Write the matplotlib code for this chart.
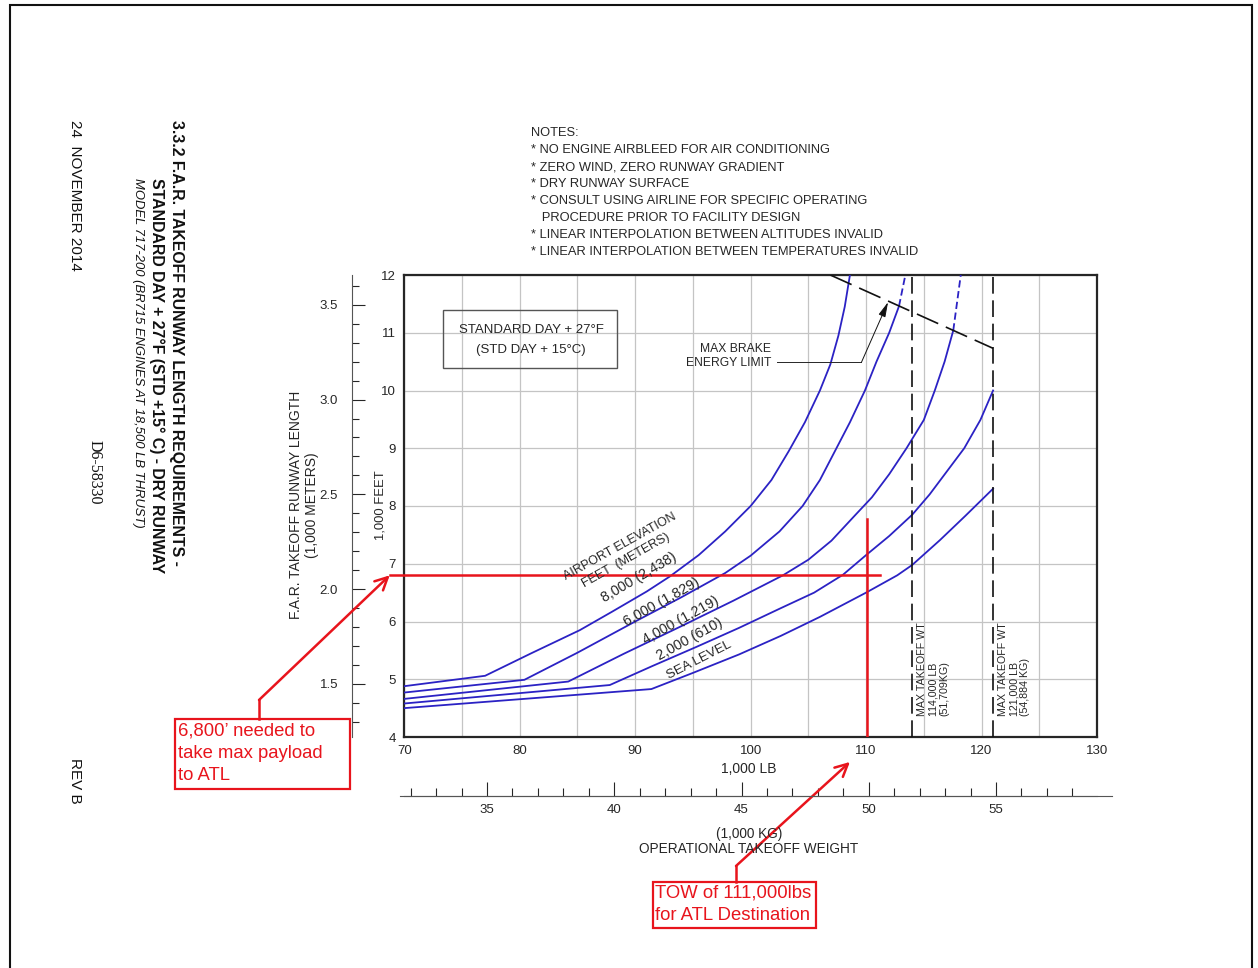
import matplotlib
matplotlib.use("Agg")
import matplotlib.pyplot as plt
from matplotlib.ticker import MultipleLocator, FixedLocator
from matplotlib.patches import Rectangle
from matplotlib.lines import Line2D

W, H = 1258, 968
plt.rcParams["font.family"] = ["Liberation Sans", "DejaVu Sans"]

# ---- chart data: operational takeoff weight (1,000 LB) vs runway length (1,000 FT) ----
tow_8000 = [70, 77.0, 81, 85.2, 88, 91.0, 93.0, 95.5, 97.8, 100.0, 101.8, 103.3, 104.7, 106.0, 106.9, 107.6, 108.15, 108.6]
len_8000 = [4.88, 5.06, 5.45, 5.85, 6.17, 6.52, 6.78, 7.15, 7.56, 8.0, 8.45, 8.95, 9.45, 10.0, 10.45, 10.95, 11.45, 12.0]

tow_6000 = [70, 80.4, 85, 90, 94, 97.8, 100.0, 102.5, 104.5, 106.0, 107.3, 108.6, 109.9, 110.9, 112.0, 112.85]
len_6000 = [4.77, 4.99, 5.46, 6.0, 6.42, 6.84, 7.14, 7.56, 8.0, 8.45, 8.95, 9.45, 10.0, 10.5, 11.0, 11.46]
tow_6000_ext = [112.85, 113.4]
len_6000_ext = [11.46, 12.0]

tow_4000 = [70, 84.2, 89, 93.9, 98.5, 102.8, 105.0, 107.0, 109.0, 110.5, 112.0, 113.5, 115.0, 115.95, 116.8, 117.55]
len_4000 = [4.66, 4.96, 5.44, 5.91, 6.36, 6.8, 7.07, 7.4, 7.83, 8.15, 8.55, 9.0, 9.49, 10.0, 10.5, 11.04]
tow_4000_ext = [117.55, 118.2]
len_4000_ext = [11.04, 12.0]

tow_2000 = [70, 87.8, 91.5, 95.3, 99.0, 102.6, 105.5, 108.0, 110.0, 112.0, 114.0, 115.5, 117.0, 118.5, 119.9, 121.0]
len_2000 = [4.58, 4.90, 5.23, 5.56, 5.89, 6.23, 6.5, 6.81, 7.15, 7.48, 7.85, 8.2, 8.6, 9.0, 9.49, 10.0]

tow_sl = [70, 91.4, 95, 99, 102.6, 106.0, 110.0, 112.7, 114.0, 116.4, 118.6, 121.0]
len_sl = [4.50, 4.83, 5.11, 5.43, 5.75, 6.08, 6.5, 6.8, 6.98, 7.41, 7.83, 8.3]

brake_tow = [106.9, 121.0]
brake_len = [12.0, 10.73]

mtow_klb = [114.0, 121.0]
mtow_text = ["MAX TAKEOFF WT\n114,000 LB\n(51,709KG)", "MAX TAKEOFF WT\n121,000 LB\n(54,884 KG)"]

elev_labels = ["8,000 (2,438)", "6,000 (1,829)", "4,000 (1,219)", "2,000 (610)", "SEA LEVEL"]

route_len = 6.8     # 1,000 ft needed for ATL
route_tow = 110.1   # TOW marked for ATL

x_ticks = [70, 80, 90, 100, 110, 120, 130]
y_ticks = [4, 5, 6, 7, 8, 9, 10, 11, 12]
m_ticks = [1.5, 2.0, 2.5, 3.0, 3.5]
kg_ticks = [35, 40, 45, 50, 55]

FT_PER_M = 3.28084
KG_PER_LB = 0.45359237

BLUE = "#2b22c4"
RED = "#e8141c"
INK = "#262626"


def fx(px):
    return px / W


def fy(py):
    return 1 - py / H


fig = plt.figure(figsize=(W / 100, H / 100), dpi=100)
ax = fig.add_axes([fx(404.3), fy(737), (1097 - 404.3) / W, (737 - 275) / H])

ax.set_xlim(70, 130)
ax.set_ylim(4, 12)
ax.xaxis.set_major_locator(FixedLocator(x_ticks))
ax.xaxis.set_minor_locator(MultipleLocator(5))
ax.yaxis.set_major_locator(FixedLocator(y_ticks))
ax.grid(True, which="both", color="#c4c4c4", linewidth=0.9)
ax.set_axisbelow(True)
ax.tick_params(which="both", length=0, labelsize=9.5, colors=INK)
ax.tick_params(axis="y", pad=6)
ax.tick_params(axis="x", pad=6)
for s in ax.spines.values():
    s.set_linewidth(1.6)
    s.set_color(INK)

# elevation curves
for xs, ys in [(tow_8000, len_8000), (tow_6000, len_6000), (tow_4000, len_4000),
               (tow_2000, len_2000), (tow_sl, len_sl)]:
    ax.plot(xs, ys, color=BLUE, lw=1.3, zorder=3, solid_joinstyle="round")
ax.plot(tow_6000_ext, len_6000_ext, color=BLUE, lw=1.3, ls=(0, (4, 2)), zorder=3)
ax.plot(tow_4000_ext, len_4000_ext, color=BLUE, lw=1.3, ls=(0, (4, 2)), zorder=3)

# brake energy limit and max takeoff weight lines
ax.plot(brake_tow, brake_len, color="#111111", lw=1.2, ls=(0, (14, 5)), zorder=3)
for xv in mtow_klb:
    ax.axvline(xv, color="#111111", lw=1.2, ls=(0, (10, 4)), zorder=3)
for xv, txt in zip(mtow_klb, mtow_text):
    ax.text(xv + 0.45, 4.37, txt, rotation=90, ha="left", va="bottom",
            fontsize=7.7, color=INK, linespacing=1.12, multialignment="left")

# max brake energy label with leader
ax.text(98.1, 10.6, "MAX BRAKE\nENERGY LIMIT", ha="center", va="center",
        fontsize=8.7, color=INK, linespacing=1.3, multialignment="right")
ax.plot([102.3, 109.6], [10.49, 10.49], color=INK, lw=0.7, zorder=3)
ax.annotate("", xy=(111.9, 11.53), xytext=(109.6, 10.49),
            arrowprops=dict(arrowstyle="-|>,head_length=0.9,head_width=0.22",
                            color="#111111", lw=0.7, shrinkA=0, shrinkB=0), zorder=4)

# standard day box
fig.add_artist(Rectangle((fx(443.3), fy(367.7)), (616.7 - 443.3) / W, (367.7 - 310) / H,
                         transform=fig.transFigure, fill=False, edgecolor="#555555", lw=1.0))
fig.text(fx(531), fy(330), "STANDARD DAY + 27\u00b0F", ha="center", va="center", fontsize=9.5, color=INK)
fig.text(fx(531), fy(350), "(STD DAY + 15\u00b0C)", ha="center", va="center", fontsize=9.5, color=INK)

# curve labels
label_pos = [
    ("AIRPORT ELEVATION", 620, 546.7, 29, 9),
    ("FEET  (METERS)", 626, 560.3, 29.5, 9),
    (elev_labels[0], 639.2, 577.5, 30.5, 10.3),
    (elev_labels[1], 661.7, 601.7, 29.2, 10.3),
    (elev_labels[2], 680.8, 620.8, 28.9, 10.3),
    (elev_labels[3], 689.2, 639.7, 28.8, 10.3),
    (elev_labels[4], 699.2, 660, 27.1, 9.5),
]
for txt, px, py, rot, fs in label_pos:
    fig.text(fx(px), fy(py), txt, rotation=rot, rotation_mode="anchor",
             ha="center", va="center", fontsize=fs, color=INK)

# metric runway length axis
sec_y = ax.secondary_yaxis(-(404.3 - 352) / (1097 - 404.3),
                           functions=(lambda f: f / FT_PER_M, lambda m: m * FT_PER_M))
sec_y.yaxis.set_major_locator(FixedLocator(m_ticks))
sec_y.yaxis.set_major_formatter(plt.FixedFormatter([f"{v:.1f}" for v in m_ticks]))
sec_y.yaxis.set_minor_locator(MultipleLocator(0.1))
sec_y.tick_params(which="major", direction="in", length=9, width=0.8, pad=10,
                  labelsize=9.5, colors=INK)
sec_y.tick_params(which="minor", direction="in", length=5, width=0.8, colors=INK)
for s in sec_y.spines.values():
    s.set_linewidth(0.8)
    s.set_color("#555555")

# metric weight axis
sec_x = ax.secondary_xaxis(-(796 - 737) / (737 - 275),
                           functions=(lambda lb: lb * KG_PER_LB, lambda kg: kg / KG_PER_LB))
sec_x.xaxis.set_major_locator(FixedLocator(kg_ticks))
sec_x.xaxis.set_minor_locator(MultipleLocator(1))
sec_x.tick_params(which="major", direction="in", length=10, width=0.8, pad=6,
                  labelsize=9.5, colors=INK)
sec_x.tick_params(which="minor", direction="in", length=6, width=0.8, colors=INK)
for s in sec_x.spines.values():
    s.set_linewidth(0.8)
    s.set_color("#555555")
fig.add_artist(Line2D([fx(400), fx(1112)], [fy(796), fy(796)], color="#555555", lw=0.8))

# axis titles
fig.text(fx(304), fy(505), "F.A.R. TAKEOFF RUNWAY LENGTH\n(1,000 METERS)", rotation=90,
         ha="center", va="center", fontsize=10, color=INK, linespacing=1.1)
fig.text(fx(380), fy(505), "1,000 FEET", rotation=90, ha="center", va="center",
         fontsize=9.4, color=INK)
fig.text(fx(749), fy(769), "1,000 LB", ha="center", va="center", fontsize=10, color=INK)
fig.text(fx(749), fy(834), "(1,000 KG)", ha="center", va="center", fontsize=9.8, color=INK)
fig.text(fx(749), fy(849), "OPERATIONAL TAKEOFF WEIGHT", ha="center", va="center",
         fontsize=9.8, color=INK)

# notes
notes = ["NOTES:",
         "* NO ENGINE AIRBLEED FOR AIR CONDITIONING",
         "* ZERO WIND, ZERO RUNWAY GRADIENT",
         "* DRY RUNWAY SURFACE",
         "* CONSULT USING AIRLINE FOR SPECIFIC OPERATING",
         "   PROCEDURE PRIOR TO FACILITY DESIGN",
         "* LINEAR INTERPOLATION BETWEEN ALTITUDES INVALID",
         "* LINEAR INTERPOLATION BETWEEN TEMPERATURES INVALID"]
for i, line in enumerate(notes):
    fig.text(fx(531), fy(133 + 17 * i), line, ha="left", va="center", fontsize=9.3, color=INK)

# side title block
fig.text(fx(176), fy(120), "3.3.2 F.A.R. TAKEOFF RUNWAY LENGTH REQUIREMENTS -", rotation=-90,
         ha="center", va="top", fontsize=11.4, fontweight="bold", color="#111111")
fig.text(fx(157), fy(178), "STANDARD DAY + 27\u00b0F (STD +15\u00b0 C) - DRY RUNWAY", rotation=-90,
         ha="center", va="top", fontsize=11.4, fontweight="bold", color="#111111")
fig.text(fx(138), fy(178), "MODEL 717-200 (BR715 ENGINES AT 18,500 LB THRUST)", rotation=-90,
         ha="center", va="top", fontsize=9.4, style="italic", color="#111111")
fig.text(fx(75), fy(120), "24  NOVEMBER 2014", rotation=-90, ha="center", va="top",
         fontsize=11, color="#111111")
fig.text(fx(95), fy(440), "D6-58330", rotation=-90, ha="center", va="top",
         fontsize=11.5, family="Liberation Serif", color="#111111")
fig.text(fx(75), fy(758), "REV B", rotation=-90, ha="center", va="top",
         fontsize=11, color="#111111")

# red annotations
ax.plot([68.8, route_tow + 1.1], [route_len, route_len], color=RED, lw=1.8, clip_on=False, zorder=5)
ax.plot([route_tow, route_tow], [4, 7.78], color=RED, lw=1.8, zorder=5)

fig.add_artist(Rectangle((fx(175), fy(789)), (350 - 175) / W, (789 - 719) / H,
                         transform=fig.transFigure, fill=False, edgecolor=RED, lw=1.6))
for i, line in enumerate(["6,800\u2019 needed to", "take max payload", "to ATL"]):
    fig.text(fx(178), fy(731 + 22 * i), line, ha="left", va="center", fontsize=13.3, color=RED)
fig.add_artist(Line2D([fx(259), fx(259)], [fy(719), fy(700)], color=RED, lw=1.8))
ax.annotate("", xy=(-0.021, route_len), xycoords=ax.get_yaxis_transform(),
            xytext=(fx(259), fy(700)), textcoords="figure fraction",
            arrowprops=dict(arrowstyle="->,head_length=0.9,head_width=0.45", color=RED, lw=1.8,
                            shrinkA=0, shrinkB=0), annotation_clip=False)

fig.add_artist(Rectangle((fx(652.7), fy(928.3)), (815.7 - 652.7) / W, (928.3 - 881.7) / H,
                         transform=fig.transFigure, fill=False, edgecolor=RED, lw=1.6))
fig.text(fx(655), fy(893), "TOW of 111,000lbs", ha="left", va="center", fontsize=13.3, color=RED)
fig.text(fx(655), fy(916), "for ATL Destination", ha="left", va="center", fontsize=13.3, color=RED)
fig.add_artist(Line2D([fx(736), fx(736)], [fy(881.7), fy(866)], color=RED, lw=1.8))
ax.annotate("", xy=(108.6, -0.054), xycoords=ax.get_xaxis_transform(),
            xytext=(fx(736), fy(866)), textcoords="figure fraction",
            arrowprops=dict(arrowstyle="->,head_length=0.9,head_width=0.45", color=RED, lw=1.8,
                            shrinkA=0, shrinkB=0), annotation_clip=False)

# page frame
fig.add_artist(Rectangle((fx(10), fy(980)), (1252 - 10) / W, (980 - 5) / H,
                         transform=fig.transFigure, fill=False, edgecolor="#111111", lw=1.5))

fig.savefig("out.png", dpi=100)
